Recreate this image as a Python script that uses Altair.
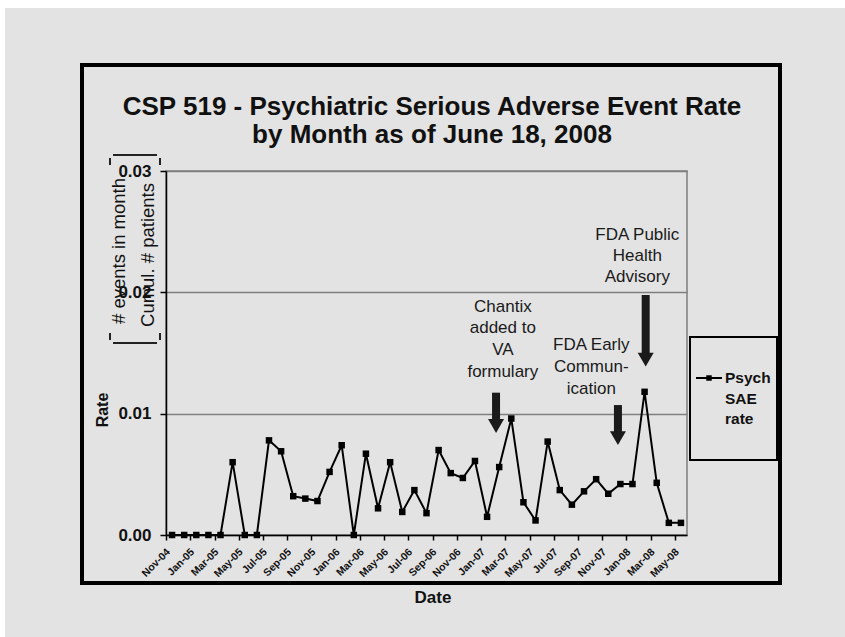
import altair as alt
import pandas as pd

# ---------------- data ----------------
months = ["Nov-04", "Dec-04", "Jan-05", "Feb-05", "Mar-05", "Apr-05", "May-05", "Jun-05",
          "Jul-05", "Aug-05", "Sep-05", "Oct-05", "Nov-05", "Dec-05", "Jan-06", "Feb-06",
          "Mar-06", "Apr-06", "May-06", "Jun-06", "Jul-06", "Aug-06", "Sep-06", "Oct-06",
          "Nov-06", "Dec-06", "Jan-07", "Feb-07", "Mar-07", "Apr-07", "May-07", "Jun-07",
          "Jul-07", "Aug-07", "Sep-07", "Oct-07", "Nov-07", "Dec-07", "Jan-08", "Feb-08",
          "Mar-08", "Apr-08", "May-08"]
rates = [0.0, 0.0, 0.0, 0.0, 0.0, 0.0060, 0.0, 0.0,
         0.0078, 0.0069, 0.0032, 0.0030, 0.0028, 0.0052, 0.0074, 0.0,
         0.0067, 0.0022, 0.0060, 0.0019, 0.0037, 0.0018, 0.0070, 0.0051,
         0.0047, 0.0061, 0.0015, 0.0056, 0.0096, 0.0027, 0.0012, 0.0077,
         0.0037, 0.0025, 0.0036, 0.0046, 0.0034, 0.0042, 0.0042, 0.0118,
         0.0043, 0.0010, 0.0010]
y_ticks = [0.0, 0.01, 0.02, 0.03]

# annotation texts (anchored in data units: month index, rate)
note_lines = ["Chantix", "added to", "VA", "formulary",
              "FDA Early", "Commun-", "ication",
              "FDA Public", "Health", "Advisory"]
note_x = [27.3, 27.3, 27.3, 27.3, 34.6, 34.6, 34.6, 38.4, 38.4, 38.4]
note_y = [0.01879, 0.01706, 0.01525, 0.01343,
          0.01566, 0.01385, 0.01203,
          0.02473, 0.02300, 0.02126]
arrow_x = [26.74, 36.8, 39.09]
arrow_top = [0.01173, 0.01071, 0.01978]
arrow_end = [0.00948, 0.00849, 0.01492]
arrow_head = [0.00898, 0.00799, 0.01445]

# ---------------- layout ----------------
FONT = "Liberation Sans"
INK = "#111111"
BG = "#e3e3e3"
W, H = 521, 364
PL, PT = 166, 171
PR, PB = 845 - PL - W, 637 - PT - H

df = pd.DataFrame({"idx": list(range(len(months))), "month": months, "rate": rates})
label_expr = "[" + ",".join("'%s'" % m for m in months) + "][datum.value]"

xscale = alt.Scale(domain=[-0.5, len(months) - 0.5], nice=False, zero=False)
yscale = alt.Scale(domain=[0, 0.03], nice=False, zero=True)

xaxis = alt.Axis(
    values=list(range(0, len(months), 2)), labelExpr=label_expr,
    labelAngle=-45, labelAlign="right", labelBaseline="middle",
    labelFont=FONT, labelFontSize=10.5, labelFontWeight="bold", labelColor=INK,
    labelPadding=10, labelOffset=2, tickOffset=-6, tickSize=5, tickColor="black",
    tickWidth=1.5, domainColor="black", domainWidth=1.5, grid=False, title=None,
    labelOverlap=False, labelFlush=False, labelBound=False)
yaxis = alt.Axis(
    values=y_ticks, format=".2f", labelFont=FONT, labelFontSize=17,
    labelFontWeight="bold", labelColor=INK, labelPadding=9, tickSize=6,
    tickColor="black", tickWidth=1.5, domainColor="black", domainWidth=1.5,
    grid=True, gridColor="#7f7f7f", gridWidth=1.5, title=None,
    labelOverlap=False, labelFlush=False)

line = alt.Chart(df).mark_line(
    color="black", strokeWidth=2,
    point=alt.OverlayMarkDef(shape="square", size=42, filled=True, color="black", opacity=1),
).encode(
    x=alt.X("idx:Q", scale=xscale, axis=xaxis),
    y=alt.Y("rate:Q", scale=yscale, axis=yaxis),
)

notes_df = pd.DataFrame({"idx": note_x, "rate": note_y, "text": note_lines})
notes = alt.Chart(notes_df).mark_text(
    font=FONT, fontSize=17, color="#1a1a1a", align="center", baseline="middle"
).encode(
    x=alt.X("idx:Q", scale=xscale, axis=xaxis),
    y=alt.Y("rate:Q", scale=yscale, axis=yaxis),
    text="text:N",
)

arrows_df = pd.DataFrame({"idx": arrow_x, "rate": arrow_top, "end": arrow_end, "head": arrow_head})
shafts = alt.Chart(arrows_df).mark_rule(strokeWidth=8, color="#1a1a1a").encode(
    x=alt.X("idx:Q", scale=xscale, axis=xaxis),
    y=alt.Y("rate:Q", scale=yscale, axis=yaxis),
    y2="end:Q",
)
heads = alt.Chart(arrows_df).mark_point(
    shape="triangle-down", filled=True, size=256, color="#1a1a1a", opacity=1
).encode(
    x=alt.X("idx:Q", scale=xscale, axis=xaxis),
    y=alt.Y("head:Q", scale=yscale, axis=yaxis),
)

one = pd.DataFrame({"k": [0]})


def box(x1, x2, y1, y2, **kw):
    return alt.Chart(one).mark_rect(**kw).encode(
        x=alt.value(x1), x2=alt.value(x2), y=alt.value(y1), y2=alt.value(y2))


def text(x, y, s, **kw):
    return alt.Chart(one).mark_text(text=s, font=FONT, color=INK, **kw).encode(
        x=alt.value(x), y=alt.value(y))


def rule(x1, x2, y1, y2, **kw):
    return alt.Chart(one).mark_rule(color="#222222", strokeWidth=2, **kw).encode(
        x=alt.value(x1), x2=alt.value(x2), y=alt.value(y1), y2=alt.value(y2))


deco = [
    box(-PL, 845 - PL, -PT, -PT + 8, color="white"),
    box(-PL, -PL + 5, -PT, 637 - PT, color="white"),
    box(-84, 614, -106, 412, fillOpacity=0, stroke="black", strokeWidth=4),
    text(266, -64, "CSP 519 - Psychiatric Serious Adverse Event Rate",
         fontSize=26, fontWeight="bold", align="center", baseline="middle"),
    text(266, -36, "by Month as of June 18, 2008",
         fontSize=26, fontWeight="bold", align="center", baseline="middle"),
    text(-63, 239, "Rate", fontSize=16, fontWeight="bold", angle=270,
         align="center", baseline="middle"),
    text(267, 427, "Date", fontSize=17, fontWeight="bold", align="center", baseline="middle"),
    text(-47, 80, "# events in month", fontSize=18.5, angle=270,
         align="center", baseline="middle"),
    text(-18, 84, "Cumul. # patients", fontSize=18.5, angle=270,
         align="center", baseline="middle"),
    # brackets
    rule(-53, -9, -16, -16),
    rule(-56, -56, -13, -6),
    rule(-6, -6, -13, -6),
    rule(-53, -9, 172, 172),
    rule(-56, -56, 162, 169),
    rule(-6, -6, 162, 169),
    # legend
    box(524, 611, 166, 289, fillOpacity=0, stroke="black", strokeWidth=2),
    alt.Chart(one).mark_rule(color="black", strokeWidth=2).encode(
        x=alt.value(530), x2=alt.value(556), y=alt.value(207)),
    alt.Chart(one).mark_point(shape="square", size=30, filled=True, color="black",
                              opacity=1).encode(x=alt.value(543), y=alt.value(207)),
    text(559, 207, "Psych", fontSize=15.5, fontWeight="bold", align="left", baseline="middle"),
    text(559, 228, "SAE", fontSize=15.5, fontWeight="bold", align="left", baseline="middle"),
    text(559, 248, "rate", fontSize=15.5, fontWeight="bold", align="left", baseline="middle"),
]

chart = alt.layer(line, shafts, heads, notes, *deco).properties(
    width=W, height=H,
    autosize=alt.AutoSizeParams(type="none"),
    padding={"left": PL, "top": PT, "right": PR, "bottom": PB},
    background=BG,
).configure_view(stroke="#7f7f7f", strokeWidth=1.5).configure_axis(labelOverlap=False)

chart.save("out.html", embed_options={"renderer": "svg", "actions": False})
